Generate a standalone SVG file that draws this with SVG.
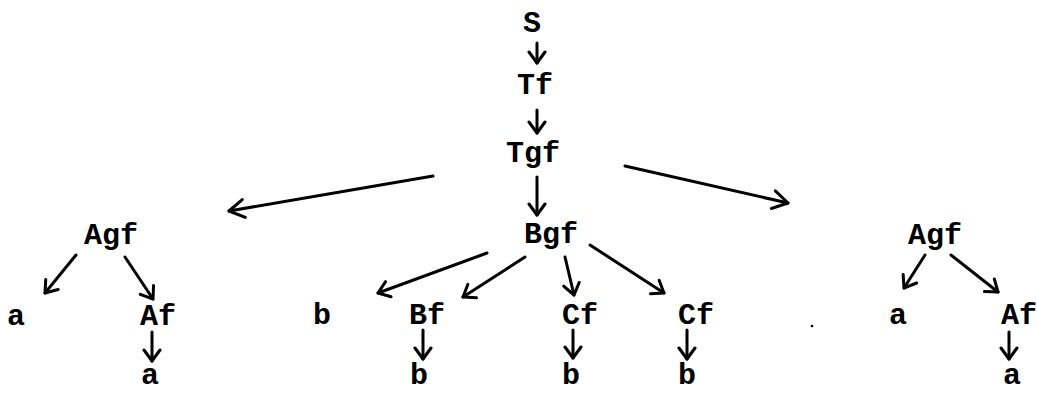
<svg xmlns="http://www.w3.org/2000/svg" width="1037" height="393" viewBox="0 0 1037 393">
  <style>
    text { font-family: "Liberation Mono", "Courier New", monospace; font-size: 30px; font-weight: bold; fill: #000; text-anchor: middle; }
    .edge { stroke: #000; stroke-width: 3; fill: none; stroke-linecap: round; }
    .small { marker-end: url(#headS); }
    .big { marker-end: url(#headL); }
  </style>
  <defs>
    <marker id="headS" markerUnits="userSpaceOnUse" viewBox="-14 -10 16 20" refX="0" refY="0" markerWidth="16" markerHeight="20" orient="auto">
      <path d="M-11,-8 L0,0 L-11,8" fill="none" stroke="#000" stroke-width="3" stroke-linecap="round" stroke-linejoin="round"/>
    </marker>
    <marker id="headL" markerUnits="userSpaceOnUse" viewBox="-18 -12 20 24" refX="0" refY="0" markerWidth="20" markerHeight="24" orient="auto">
      <path d="M-15,-9 L0,0 L-15,9" fill="none" stroke="#000" stroke-width="3" stroke-linecap="round" stroke-linejoin="round"/>
    </marker>
  </defs>

  <rect width="1037" height="393" fill="#fff"/>

  <!-- derivation tree nodes -->
  <g id="n-S"><text x="532" y="32">S</text></g>
  <g id="n-Tf"><text x="535" y="94">Tf</text></g>
  <g id="n-Tgf"><text x="533" y="162">Tgf</text></g>
  <g id="n-Bgf"><text x="551" y="243">Bgf</text></g>

  <g id="n-Agf-left"><text x="111" y="244">Agf</text></g>
  <g id="n-a-left1"><text x="16" y="325">a</text></g>
  <g id="n-Af-left"><text x="158" y="325">Af</text></g>
  <g id="n-a-left2"><text x="150" y="384">a</text></g>

  <g id="n-b1"><text x="322" y="324">b</text></g>
  <g id="n-Bf"><text x="427" y="324">Bf</text></g>
  <g id="n-b2"><text x="419" y="384">b</text></g>
  <g id="n-Cf1"><text x="580" y="324">Cf</text></g>
  <g id="n-b3"><text x="571" y="384">b</text></g>
  <g id="n-Cf2"><text x="696" y="324">Cf</text></g>
  <g id="n-b4"><text x="687" y="384">b</text></g>

  <g id="n-Agf-right"><text x="935" y="244">Agf</text></g>
  <g id="n-a-right1"><text x="898" y="324">a</text></g>
  <g id="n-Af-right"><text x="1019" y="324">Af</text></g>
  <g id="n-a-right2"><text x="1012" y="384">a</text></g>

  <!-- stray speck -->
  <circle cx="812" cy="326" r="1.3" fill="#000"/>

  <!-- connectors -->
  <g id="edges">
    <line class="edge small" x1="537" y1="43" x2="537" y2="63"/>
    <line class="edge small" x1="537" y1="110" x2="537" y2="133"/>
    <line class="edge small" x1="537" y1="177" x2="537" y2="215"/>

    <line class="edge big" x1="433" y1="176" x2="229" y2="211"/>
    <line class="edge big" x1="625" y1="166" x2="788" y2="203"/>

    <line class="edge small" x1="76" y1="255" x2="45" y2="293"/>
    <line class="edge small" x1="125" y1="257" x2="153" y2="299"/>
    <line class="edge small" x1="152" y1="332" x2="152" y2="361"/>

    <line class="edge small" x1="487" y1="253" x2="378" y2="293"/>
    <line class="edge small" x1="525" y1="257" x2="463" y2="297"/>
    <line class="edge small" x1="565" y1="257" x2="574" y2="295"/>
    <line class="edge small" x1="590" y1="245" x2="664" y2="293"/>

    <line class="edge small" x1="423" y1="330" x2="423" y2="359"/>
    <line class="edge small" x1="573" y1="330" x2="573" y2="358"/>
    <line class="edge small" x1="687" y1="330" x2="687" y2="359"/>

    <line class="edge small" x1="925" y1="255" x2="904" y2="288"/>
    <line class="edge small" x1="951" y1="255" x2="998" y2="292"/>
    <line class="edge small" x1="1009" y1="332" x2="1009" y2="359"/>
  </g>
</svg>
